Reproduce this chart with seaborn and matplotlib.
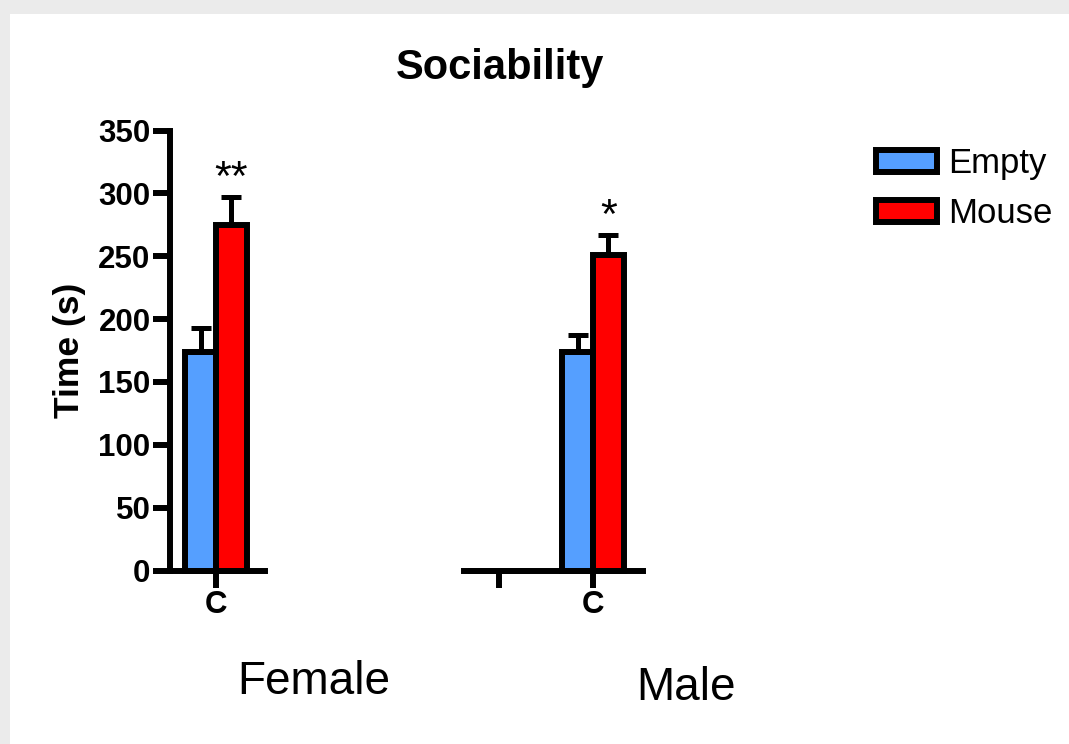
import matplotlib
matplotlib.use("Agg")
import matplotlib.pyplot as plt
import seaborn as sns
import pandas as pd
from matplotlib.patches import Patch, Rectangle
from matplotlib.container import BarContainer

# ---- data ----
conditions = ["Empty", "Mouse"]
female_groups = ["C"]
female_mean = {"Empty": [174], "Mouse": [275]}
female_sem = {"Empty": [19], "Mouse": [22]}
female_sig = ["**"]

male_groups = [" ", "C"]
male_mean = {"Empty": [0, 174], "Mouse": [0, 251]}
male_sem = {"Empty": [0, 13], "Mouse": [0, 16]}
male_sig = ["", "*"]

yticks = [0, 50, 100, 150, 200, 250, 300, 350]
colors = {"Empty": "#559FFF", "Mouse": "#FF0000"}

sns.set_theme(style="ticks")
plt.rcParams["font.family"] = ["Liberation Sans", "DejaVu Sans"]
for k in ["text.color", "axes.labelcolor", "xtick.color", "ytick.color"]:
    plt.rcParams[k] = "black"

W, H = 1069, 744
fig = plt.figure(figsize=(W / 100, H / 100), dpi=100)
fig.patch.set_facecolor("#ebebeb")
fig.add_artist(Rectangle((10 / W, 0), 1, (H - 14) / H, transform=fig.transFigure,
                         facecolor="white", edgecolor="none", zorder=-10))

LW = 4.3


def make_df(groups, means, sems):
    rows = []
    for c in conditions:
        for g, m, s in zip(groups, means[c], sems[c]):
            rows.append({"group": g, "condition": c, "time": m, "sem": s})
    return pd.DataFrame(rows)


def draw(ax, groups, means, sems, sig, show_y):
    df = make_df(groups, means, sems)
    sns.barplot(data=df, x="group", y="time", hue="condition", order=groups,
                hue_order=conditions, palette=colors, width=0.65,
                edgecolor="black", linewidth=LW, errorbar=None, saturation=1,
                legend=False, ax=ax)
    bar_conts = [c for c in ax.containers if isinstance(c, BarContainer)]
    for ci, cont in enumerate(bar_conts):
        cond = conditions[ci]
        for bar in cont:
            xc = bar.get_x() + bar.get_width() / 2
            gi = int(round(xc))
            m = means[cond][gi]
            s = sems[cond][gi]
            bar.set_clip_on(False)
            if m == 0:
                bar.set_joinstyle("bevel")
            if s > 0:
                ax.errorbar(xc, m, yerr=[[0], [s]], fmt="none", ecolor="black",
                            elinewidth=3.6, capsize=7.5, capthick=3.6, zorder=3,
                            clip_on=False)
            if cond == "Mouse" and sig[gi]:
                ax.annotate(sig[gi], (xc, m + s), xytext=(0, -1.5),
                            textcoords="offset points", ha="center", va="bottom",
                            fontsize=31, color="black")
    ax.set_ylim(0, 350)
    ax.set_yticks(yticks)
    ax.set_xlabel("")
    ax.set_facecolor("none")
    for sp in ["top", "right"]:
        ax.spines[sp].set_visible(False)
    for sp in ["left", "bottom"]:
        ax.spines[sp].set_linewidth(LW)
        ax.spines[sp].set_color("black")
    ax.spines["left"].set_capstyle("projecting")
    ax.tick_params(axis="both", direction="out", length=12, width=LW,
                   color="black", labelsize=22.5, pad=2)
    for lab in ax.get_xticklabels() + ax.get_yticklabels():
        lab.set_fontweight("bold")
    if show_y:
        ax.set_ylabel("Time (s)", fontsize=25.5, fontweight="bold", labelpad=9)
    else:
        ax.spines["left"].set_visible(False)
        ax.tick_params(axis="y", left=False, labelleft=False)
        ax.set_ylabel("")


unit = 94.0  # px per category
y0, y350 = 570.5, 130.5
bottom = (H - y0) / H
height = (y0 - y350) / H

ax_f = fig.add_axes([170 / W, bottom, 95 / W, height])
draw(ax_f, female_groups, female_mean, female_sem, female_sig, True)
ax_f.set_xlim(-(216 - 170) / unit, (265 - 216) / unit)

ax_m = fig.add_axes([464 / W, bottom, 179 / W, height])
draw(ax_m, male_groups, male_mean, male_sem, male_sig, False)
ax_m.set_xlim(-(499 - 464) / unit, 1 + (643 - 593) / unit)

fig.text(500 / W, 1 - 68 / H, "Sociability", ha="center", va="center",
         fontsize=30, fontweight="bold")
fig.text(314 / W, 1 - 682 / H, "Female", ha="center", va="center", fontsize=33)
fig.text(686 / W, 1 - 688 / H, "Male", ha="center", va="center", fontsize=33)

handles = [Patch(facecolor=colors[c], edgecolor="black", linewidth=LW) for c in conditions]
fig.legend(handles, conditions, loc="upper left", bbox_to_anchor=(876 / W, 1 - 147 / H),
           frameon=False, fontsize=25, borderpad=0, borderaxespad=0,
           handlelength=1.76, handleheight=0.6, handletextpad=0.32, labelspacing=0.5)

fig.savefig("out.png", dpi=100, facecolor=fig.get_facecolor())
